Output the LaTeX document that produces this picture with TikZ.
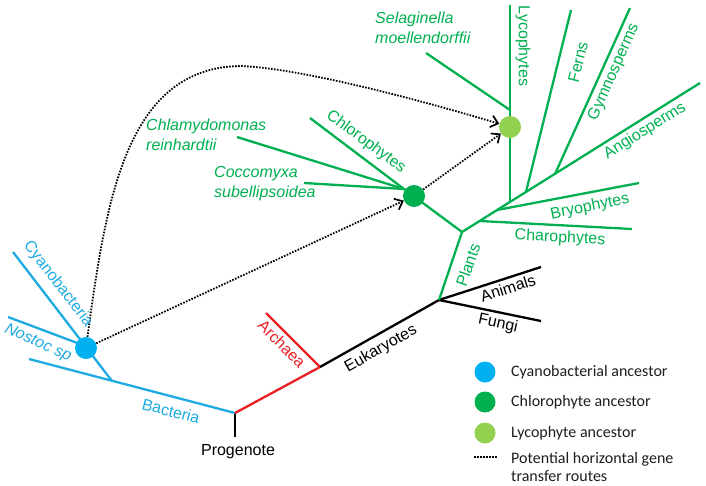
\documentclass[tikz,border=0pt]{standalone}
\usepackage{fontspec}
\setmainfont{Liberation Sans}
\newfontfamily\legfont{Carlito}
\usetikzlibrary{arrows.meta}
\definecolor{cyanl}{RGB}{29,171,226}
\definecolor{cyanc}{RGB}{0,176,240}
\definecolor{grn}{RGB}{0,176,80}
\definecolor{lgrn}{RGB}{146,208,80}
\definecolor{redl}{RGB}{235,30,35}
\definecolor{legtxt}{RGB}{30,30,30}
\begin{document}
\begin{tikzpicture}[x=1pt,y=-1pt,
  branch/.style={line width=2.3pt},
  lbl/.style={font=\fontsize{16}{20}\selectfont, inner sep=0pt},
  ilbl/.style={font=\fontsize{16}{20}\selectfont\itshape, inner sep=0pt, align=left, text=grn},
  anc/.style={circle, inner sep=0pt, minimum size=22pt},
  leganc/.style={circle, inner sep=0pt, minimum size=21pt},
  legtext/.style={font=\legfont\fontsize{16}{18.5}\selectfont, text=legtxt, inner sep=0pt, anchor=west, align=left},
  dotline/.style={line width=1.8pt, dash pattern=on 1.6pt off 1.4pt},
  hgt/.style={dotline, -{Straight Barb[length=7pt,width=12pt,line width=1.7pt]}}
]
\useasboundingbox (0,0) rectangle (706,485);

% ---------- junction coordinates ----------
\coordinate (root) at (235,413);
\coordinate (progbot) at (235,437);
\coordinate (bacL) at (29,359);
\coordinate (bacj) at (112,381);
\coordinate (cyaL) at (13,252);
\coordinate (nosL) at (8,317);
\coordinate (nosj) at (80,344);
\coordinate (arch) at (320,367);
\coordinate (archL) at (266,313);
\coordinate (euk) at (439,300);
\coordinate (animR) at (541,267);
\coordinate (fungR) at (541,321);
\coordinate (plj) at (462,232);
\coordinate (chlc) at (404,189);
\coordinate (chlL) at (310,118);
\coordinate (chlamL) at (237,137);
\coordinate (coccL) at (304,183);
\coordinate (s1) at (480,221);
\coordinate (s2) at (497,210);
\coordinate (s3) at (510,202);
\coordinate (s4) at (526,192);
\coordinate (s5) at (555,174);
\coordinate (angR) at (700,83);
\coordinate (charR) at (632,229);
\coordinate (bryR) at (639,183);
\coordinate (lycT) at (510,5);
\coordinate (selj) at (510,110);
\coordinate (selL) at (426,53);
\coordinate (fernT) at (571,10);
\coordinate (gymT) at (630,8);

% ---------- branches ----------
\draw[branch, black] (root) -- (progbot);
\draw[branch, cyanl] (root) -- (bacL);
\draw[branch, cyanl] (bacj) -- (cyaL);
\draw[branch, cyanl] (nosL) -- (nosj);
\draw[branch, redl] (root) -- (arch);
\draw[branch, redl] (arch) -- (archL);
\draw[branch, black] (arch) -- (euk);
\draw[branch, black] (euk) -- (animR);
\draw[branch, black] (euk) -- (fungR);
\draw[branch, grn] (euk) -- (plj);
\draw[branch, grn] (plj) -- (chlc);
\draw[branch, grn] (chlc) -- (chlL);
\draw[branch, grn] (chlc) -- (chlamL);
\draw[branch, grn] (chlc) -- (coccL);
\draw[branch, grn] (plj) -- (angR);
\draw[branch, grn] (s1) -- (charR);
\draw[branch, grn] (s2) -- (bryR);
\draw[branch, grn] (s3) -- (lycT);
\draw[branch, grn] (selj) -- (selL);
\draw[branch, grn] (s4) -- (fernT);
\draw[branch, grn] (s5) -- (gymT);

% ---------- ancestors ----------
\node[anc, fill=cyanc] (cya) at (86,348) {};
\node[anc, fill=grn] (chl) at (414,196) {};
\node[anc, fill=lgrn] (lyc) at (510,127) {};

% ---------- transfer routes ----------
\coordinate (topc) at (240,66);
\draw[hgt] (cya) -- (chl);
\draw[hgt] (chl) -- (lyc);
\draw[hgt] (cya) .. controls (106,200) and (126,68) .. (topc)
  .. controls (300,68) and (420,100) .. (lyc);

% ---------- labels ----------
\node[lbl, text=cyanl, rotate=-52.5] (lcya) at (58,284) {Cyanobacteria};
\node[lbl, text=cyanl, rotate=-24, font=\fontsize{16}{20}\selectfont\itshape] (lnos) at (38,343) {Nostoc sp};
\node[lbl, text=cyanl, rotate=-14.5] (lbac) at (171,411) {Bacteria};
\node[lbl] (lprog) at (238,452) {Progenote};
\node[lbl, text=redl, rotate=-45] (larch) at (282,344) {Archaea};
\node[lbl, rotate=29.5] (leuk) at (381,349) {Eukaryotes};
\node[lbl, rotate=18] (lanim) at (508,288) {Animals};
\node[lbl, rotate=-12] (lfung) at (498,324) {Fungi};
\node[lbl, text=grn, rotate=71] (lpl) at (468,265) {Plants};
\node[lbl, text=grn, rotate=-36.5] (lchl) at (366,142) {Chlorophytes};
\node[lbl, text=grn, rotate=-90] (llyc) at (523,46) {Lycophytes};
\node[lbl, text=grn, rotate=76] (lfern) at (578,62) {Ferns};
\node[lbl, text=grn, rotate=66] (lgym) at (614,72) {Gymnosperms};
\node[lbl, text=grn, rotate=32] (lang) at (645,131) {Angiosperms};
\node[lbl, text=grn, rotate=11.5] (lbry) at (590,207) {Bryophytes};
\node[lbl, text=grn, rotate=-3] (lchar) at (560,238) {Charophytes};
\node[ilbl, anchor=west] (lsel) at (375,28) {Selaginella\\moellendorffii};
\node[ilbl, anchor=west] (lchlam) at (146,135) {Chlamydomonas\\reinhardtii};
\node[ilbl, anchor=west] (lcocc) at (214,184) {Coccomyxa\\subellipsoidea};

% ---------- legend ----------
\node[leganc, fill=cyanc] (k1) at (485,372) {};
\node[leganc, fill=grn] (k2) at (485,402) {};
\node[leganc, fill=lgrn] (k3) at (485,433) {};
\coordinate (k4a) at (474,457);
\coordinate (k4b) at (497,457);
\draw[dotline] (k4a) -- (k4b);
\node[legtext] (t1) at (511,372) {Cyanobacterial ancestor};
\node[legtext] (t2) at (511,402) {Chlorophyte ancestor};
\node[legtext] (t3) at (511,433) {Lycophyte ancestor};
\node[legtext] (t4) at (511,467) {Potential horizontal gene\\transfer routes};
\end{tikzpicture}
\end{document}
